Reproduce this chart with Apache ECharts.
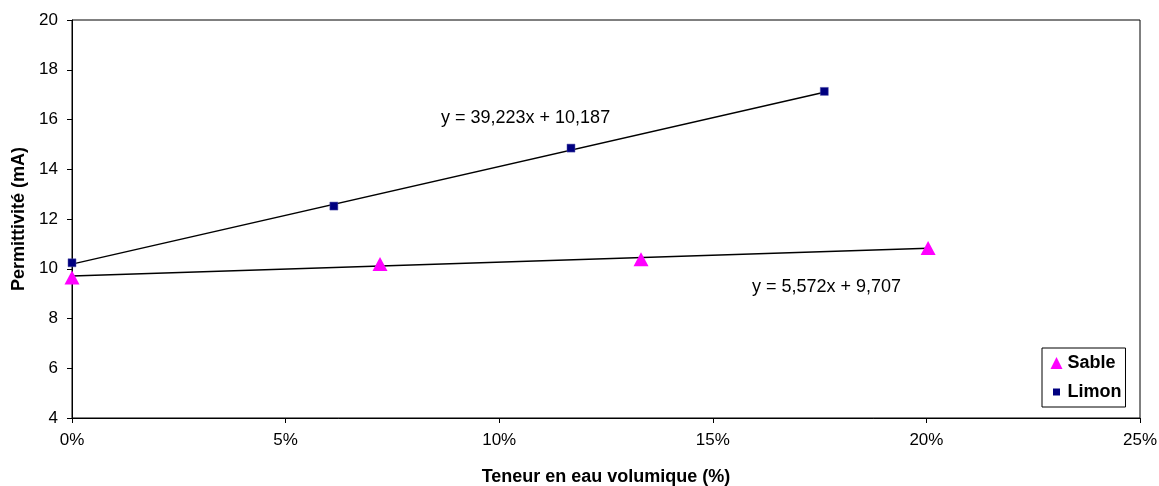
<!DOCTYPE html>
<html><head><meta charset="utf-8">
<script src="https://cdn.jsdelivr.net/npm/echarts@6/dist/echarts.min.js"></script>
<style>html,body{margin:0;padding:0;background:#fff}#c{width:1159px;height:486px}</style>
</head><body><div id="c"></div>
<script>
// Data (x as volumetric water fraction, y as permittivity)
const sableX = [0.0, 0.0721, 0.1332, 0.2004];
const sableY = [9.65, 10.19, 10.38, 10.83];
const limonX = [0.0, 0.0613, 0.1168, 0.1761];
const limonY = [10.24, 12.52, 14.85, 17.13];
// Trend lines (slope, intercept) as shown in the chart
const sableTrend = [5.572, 9.707];
const limonTrend = [39.223, 10.187];
const sableEq = 'y = 5,572x + 9,707';
const limonEq = 'y = 39,223x + 10,187';
const xTicks = [0, 0.05, 0.10, 0.15, 0.20, 0.25];
const yTicks = [4, 6, 8, 10, 12, 14, 16, 18, 20];

const zip = (xs, ys) => xs.map((x, i) => [x, ys[i]]);
const trend = (xs, t) => {
  const a = Math.min(...xs), b = Math.max(...xs);
  return [[a, t[0]*a + t[1]], [b, t[0]*b + t[1]]];
};
const font = 'Liberation Sans, Arial, sans-serif';
const chart = echarts.init(document.getElementById('c'));
chart.setOption({
  animation: false,
  backgroundColor: '#fff',
  textStyle: {fontFamily: font},
  grid: {left: 72, right: 19, top: 20, bottom: 68, containLabel: false, outerBoundsMode: 'none',
    show: true, borderColor: '#000', borderWidth: 1, backgroundColor: 'transparent'},
  xAxis: {
    type: 'value', min: xTicks[0], max: xTicks[xTicks.length - 1], interval: 0.05,
    axisLine: {show: true, lineStyle: {color: '#000', width: 1}},
    axisTick: {show: true, length: 5, lineStyle: {color: '#000'}},
    splitLine: {show: false},
    axisLabel: {color: '#000', fontSize: 17, fontFamily: font, margin: 14,
      formatter: v => Math.round(v * 100) + '%'},
    name: 'Teneur en eau volumique (%)', nameLocation: 'middle', nameGap: 50,
    nameTextStyle: {color: '#000', fontSize: 18, fontWeight: 'bold', fontFamily: font}
  },
  yAxis: {
    type: 'value', min: yTicks[0], max: yTicks[yTicks.length - 1], interval: 2,
    axisLine: {show: true, lineStyle: {color: '#000', width: 1}},
    axisTick: {show: true, length: 5, lineStyle: {color: '#000'}},
    splitLine: {show: false},
    axisLabel: {color: '#000', fontSize: 17, fontFamily: font, margin: 14},
    name: 'Permittivité (mA)', nameLocation: 'middle', nameGap: 44,
    nameTextStyle: {color: '#000', fontSize: 18, fontWeight: 'bold', fontFamily: font}
  },
  legend: {
    left: 1042, top: 348, orient: 'vertical', itemGap: 11,
    backgroundColor: '#fff', borderColor: '#000', borderWidth: 1,
    padding: [6, 4, 6, 6], itemWidth: 12, itemHeight: 12,
    textStyle: {color: '#000', fontSize: 18, fontWeight: 'bold', fontFamily: font},
    data: [
      {name: 'Sable', icon: 'triangle', itemStyle: {color: '#ff00ff', borderWidth: 0}},
      {name: 'Limon', icon: 'rect', itemStyle: {color: '#000080', borderColor: '#fff', borderWidth: 5}}
    ]
  },
  series: [
    {name: 'SableTrend', type: 'line', data: trend(sableX, sableTrend), symbol: 'none',
      lineStyle: {color: '#000', width: 1.4}, z: 2, silent: true},
    {name: 'LimonTrend', type: 'line', data: trend(limonX, limonTrend), symbol: 'none',
      lineStyle: {color: '#000', width: 1.4}, z: 2, silent: true},
    {name: 'Sable', type: 'scatter', data: zip(sableX, sableY), symbol: 'triangle', symbolSize: [15, 14],
      itemStyle: {color: '#ff00ff', opacity: 1}, z: 3},
    {name: 'Limon', type: 'scatter', data: zip(limonX, limonY), symbol: 'rect', symbolSize: 8,
      itemStyle: {color: '#000080', borderColor: '#5555aa', borderWidth: 0.5, opacity: 1}, z: 3}
  ],
  graphic: [
    {type: 'text', left: 441, top: 109, style: {text: limonEq, fill: '#000', font: '18px ' + font}},
    {type: 'text', left: 752, top: 278, style: {text: sableEq, fill: '#000', font: '18px ' + font}}
  ]
});
</script></body></html>
